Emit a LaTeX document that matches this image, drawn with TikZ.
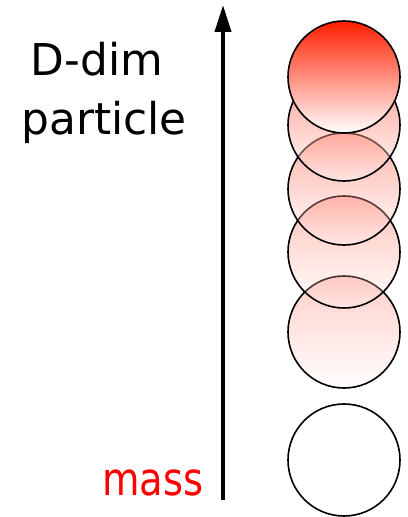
\documentclass[tikz,border=0pt]{standalone}
\usepackage{fontspec}
\setmainfont{DejaVu Sans}
\usetikzlibrary{arrows.meta}
\definecolor{hotred}{RGB}{255,30,0}
\definecolor{massred}{RGB}{255,0,0}
\begin{document}
\begin{tikzpicture}[x=1bp,y=-1bp,
  ball/.style={circle, draw=black, line width=1.6bp, minimum size=112bp, inner sep=0pt,
    top color=hotred, bottom color=white},
  lbl/.style={inner sep=0pt, anchor=base, font=\fontsize{44}{44}\selectfont}]
\useasboundingbox (0,0) rectangle (407,517);
% balls drawn from bottom to top
\node[circle, draw=black, line width=1.6bp, minimum size=112bp, inner sep=0pt, fill=white] (b6) at (344,460) {};
\node[ball, fill opacity=0.22] (b5) at (344,332) {};
\node[ball, fill opacity=0.28] (b4) at (344,252) {};
\node[ball, fill opacity=0.35] (b3) at (344,189) {};
\node[ball, fill opacity=0.45] (b2) at (344,125) {};
\node[ball] (b1) at (344,77) {};
% axis
\coordinate (a0) at (223,500);
\coordinate (a1) at (223,5);
\draw[line width=4bp, -{Triangle[length=27bp,width=16bp]}] (a0) -- (a1);
% labels
\node[lbl] (t1) at (97,76) {D-dim};
\node[lbl] (t2) at (104,135) {particle};
\node[lbl, text=massred, font=\fontsize{46}{46}\selectfont] (t3) at (153,495) {\scalebox{0.84}[1]{mass}};
\end{tikzpicture}
\end{document}
